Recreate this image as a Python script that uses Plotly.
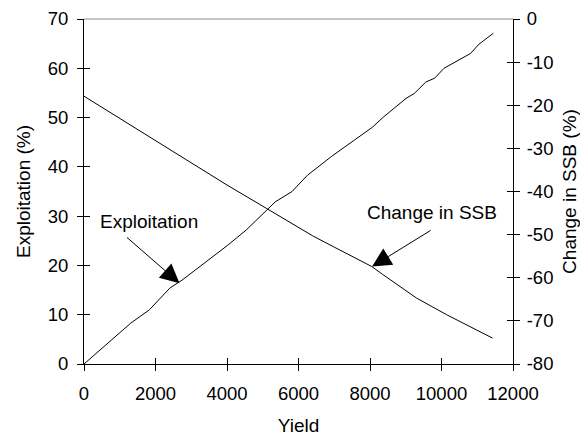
import plotly.graph_objects as go

# Exploitation (%) vs Yield (left axis)
expl_yield = [0, 1310, 1830, 2400, 2740, 4020, 4540, 5350, 5820, 6250, 6920, 8060,
              8390, 8720, 9010, 9240, 9560, 9810, 10070, 10810, 11050, 11450]
expl_vals = [0, 8.3, 11.0, 15.4, 17.0, 24.1, 27.2, 32.9, 35.0, 38.3, 42.1, 48.0,
             50.2, 52.1, 53.9, 54.9, 57.2, 58.0, 60.0, 63.0, 64.9, 67.1]

# Change in SSB (%) vs Yield (right axis)
ssb_yield = [0, 1300, 2400, 3300, 4000, 5100, 5800, 6400, 7000, 8050, 8350, 9300, 10150, 11430]
ssb_vals = [-17.9, -24.6, -30.3, -35.0, -38.5, -43.9, -47.3, -50.3, -52.9, -57.4, -59.2,
            -64.7, -68.6, -74.0]

x_ticks = [0, 2000, 4000, 6000, 8000, 10000, 12000]
x_labels = ["0", "2000", "4000", "6000", "8000", "10000", "12000"]
left_ticks = [0, 10, 20, 30, 40, 50, 60, 70]
left_labels = ["0", "10", "20", "30", "40", "50", "60", "70"]
right_ticks = [0, -10, -20, -30, -40, -50, -60, -70, -80]
right_labels = ["0", "-10", "-20", "-30", "-40", "-50", "-60", "-70", "-80"]

FONT = "Liberation Sans, Arial, sans-serif"
fs_tick = 18.5
fs = 19

fig = go.Figure()
fig.add_trace(go.Scatter(x=expl_yield, y=expl_vals, mode="lines",
                         line=dict(color="black", width=1), yaxis="y", showlegend=False))
fig.add_trace(go.Scatter(x=ssb_yield, y=ssb_vals, mode="lines",
                         line=dict(color="black", width=1), yaxis="y2", showlegend=False))
# empty helper traces so the overlay tick axes get drawn (inner half of crossing ticks)
fig.add_trace(go.Scatter(x=[None], y=[None], xaxis="x2", yaxis="y3", showlegend=False,
                         hoverinfo="skip"))
fig.add_trace(go.Scatter(x=[None], y=[None], xaxis="x", yaxis="y4", showlegend=False,
                         hoverinfo="skip"))

common = dict(showgrid=False, zeroline=False, automargin=False,
              tickfont=dict(family=FONT, size=fs_tick, color="black"))
helper = dict(showgrid=False, zeroline=False, automargin=False, showticklabels=False,
              showline=False, ticks="inside", ticklen=6, tickcolor="black")

# page body has an 8px margin, so the figure is sized to fit the 588x438 window
fig.update_layout(
    width=580, height=430,
    margin=dict(l=76, r=75, t=11, b=74),
    paper_bgcolor="white", plot_bgcolor="white",
    font=dict(family=FONT, size=fs, color="black"),
    xaxis=dict(range=[0, 12000], tickvals=x_ticks, ticktext=x_labels, ticks="outside", ticklen=6,
               tickcolor="black", showline=True, linecolor="black", linewidth=1,
               title=dict(text="Yield", font=dict(size=fs), standoff=15),
               ticklabelstandoff=7, **common),
    yaxis=dict(range=[0, 70], tickvals=left_ticks, ticktext=left_labels, ticks="outside", ticklen=6,
               tickcolor="black", showline=True, linecolor="black", linewidth=1,
               title=dict(text="Exploitation (%)", font=dict(size=fs), standoff=12),
               ticklabelstandoff=5, **common),
    yaxis2=dict(range=[-80, 0], tickvals=right_ticks, ticktext=right_labels, ticks="outside",
                ticklen=6, tickcolor="black", showline=True, linecolor="black", linewidth=1,
                overlaying="y", side="right", anchor="x",
                title=dict(text="Change in SSB (%)", font=dict(size=fs), standoff=10),
                ticklabelstandoff=3, **common),
    xaxis2=dict(range=[0, 12000], tickvals=x_ticks, overlaying="x", anchor="y", side="bottom",
                **helper),
    yaxis3=dict(range=[0, 70], tickvals=left_ticks, overlaying="y", anchor="x", side="left",
                **helper),
    yaxis4=dict(range=[-80, 0], tickvals=right_ticks, overlaying="y", anchor="x", side="right",
                **helper),
    shapes=[dict(type="line", xref="paper", yref="paper", x0=0, x1=1, y0=1, y1=1,
                 line=dict(color="#8c8c8c", width=1))],
    annotations=[
        dict(text="Exploitation", x=1810, y=28.9, xref="x", yref="y",
             showarrow=False, font=dict(size=fs)),
        dict(text="", x=2671, y=16.4, xref="x", yref="y", showarrow=True,
             ax=-54, ay=-47, arrowhead=2, arrowsize=3.8, arrowwidth=1, arrowcolor="black"),
        dict(text="Change in SSB", x=9748, y=-44.9, xref="x", yref="y2",
             showarrow=False, font=dict(size=fs)),
        dict(text="", x=8058, y=-57.4, xref="x", yref="y2", showarrow=True,
             ax=60, ay=-37, arrowhead=2, arrowsize=3.8, arrowwidth=1, arrowcolor="black"),
    ],
)

fig.write_html("out.html")
